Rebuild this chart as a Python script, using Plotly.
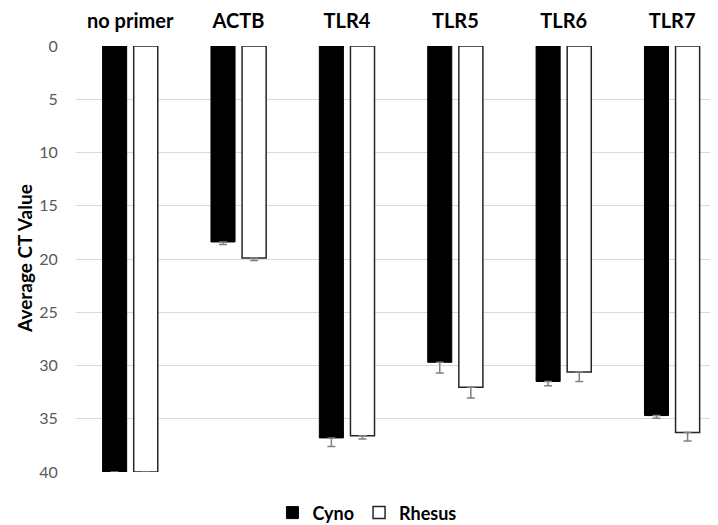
import plotly.graph_objects as go

categories = ["no primer", "ACTB", "TLR4", "TLR5", "TLR6", "TLR7"]
cyno = [40.0, 18.4, 36.8, 29.7, 31.5, 34.7]
cyno_err = [0.05, 0.25, 0.8, 1.0, 0.4, 0.25]
rhesus = [40.0, 19.9, 36.6, 32.05, 30.6, 36.3]
rhesus_err = [0.05, 0.25, 0.3, 1.0, 0.9, 0.8]
y_ticks = [0, 5, 10, 15, 20, 25, 30, 35, 40]

W, H = 710, 517
L, T, PW, PH = 68, 38, 642, 426

fig = go.Figure()
fig.add_trace(go.Bar(
    name="Cyno", x=categories, y=cyno,
    marker=dict(color="black", line=dict(color="black", width=1)),
    error_y=dict(type="data", array=cyno_err, arrayminus=[0]*len(cyno_err), symmetric=False,
                 color="#808080", thickness=1.5, width=4),
))
fig.add_trace(go.Bar(
    name="Rhesus", x=categories, y=rhesus,
    marker=dict(color="white", line=dict(color="#262626", width=1.5)),
    error_y=dict(type="data", array=rhesus_err, arrayminus=[0]*len(rhesus_err), symmetric=False,
                 color="#808080", thickness=1.5, width=4),
))

fig.update_layout(
    width=W, height=H,
    margin=dict(l=L, r=max(0, W - L - PW), t=T, b=H - T - PH, autoexpand=False),
    paper_bgcolor="white", plot_bgcolor="white",
    barmode="group", bargap=0.426, bargroupgap=0.226,
    font=dict(family="Lato, Open Sans, sans-serif", size=14, color="#595959"),
    xaxis=dict(side="top", showline=False, showgrid=False, automargin=False,
               ticks="outside", ticklen=9, tickcolor="rgba(0,0,0,0)",
               range=[-0.5, 5.424],
               tickfont=dict(size=20, color="black", family="Lato, sans-serif", weight="bold")),
    yaxis=dict(range=[40, 0], tickvals=y_ticks, showgrid=True, gridcolor="#d9d9d9", gridwidth=1,
               zeroline=False, showline=False, automargin=False,
               ticks="outside", ticklen=14, tickcolor="rgba(0,0,0,0)",
               tickfont=dict(size=16, color="#595959")),
    annotations=[dict(text="<b>Average CT Value</b>", xref="paper", yref="paper",
                      x=-(L - 16) / PW, y=0.5, xanchor="center", yanchor="middle",
                      textangle=-90, showarrow=False,
                      font=dict(size=19, color="black", family="Lato, sans-serif"))],
    legend=dict(orientation="h", x=0.306, xanchor="left", y=-0.096, yanchor="middle",
                font=dict(size=18, color="black", family="Lato, sans-serif", weight="bold"),
                itemwidth=30),
)

fig.write_html("out.html")
